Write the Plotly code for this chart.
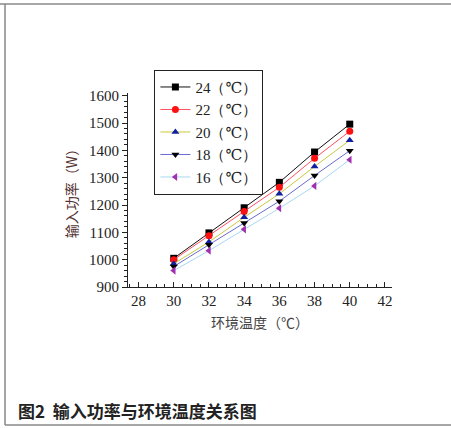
import plotly.graph_objects as go

x_temp = [30, 32, 34, 36, 38, 40]
series_names = ["24（℃）", "22（℃）", "20（℃）", "18（℃）", "16（℃）"]
p24 = [1005, 1098, 1190, 1283, 1394, 1496]
p22 = [1000, 1088, 1176, 1265, 1371, 1470]
p20 = [985, 1065, 1155, 1241, 1341, 1437]
p18 = [975, 1055, 1134, 1214, 1308, 1399]
p16 = [960, 1033, 1111, 1188, 1270, 1366]
series_values = [p24, p22, p20, p18, p16]

line_colors = ["#111111", "#ff5060", "#c8c840", "#6a6ad0", "#a8d8f0"]
marker_colors = ["#000000", "#ff1010", "#1020a0", "#000000", "#a030b0"]
marker_symbols = ["square", "circle", "triangle-up", "triangle-down", "triangle-left"]

x_ticks = [28, 30, 32, 34, 36, 38, 40, 42]
y_ticks = [900, 1000, 1100, 1200, 1300, 1400, 1500, 1600]

fig = go.Figure()
for name, vals, lc, mc, ms in zip(series_names, series_values, line_colors, marker_colors, marker_symbols):
    fig.add_trace(go.Scatter(
        x=x_temp, y=vals, name=name, mode="lines+markers",
        line=dict(color=lc, width=1),
        marker=dict(color=mc, symbol=ms, size=7),
    ))

serif = "Times New Roman, Liberation Serif, DejaVu Serif, serif"
cjk = "Noto Sans CJK SC"
fig.update_layout(
    width=451, height=428,
    margin=dict(l=128, r=59, t=93, b=141),
    paper_bgcolor="white", plot_bgcolor="white",
    font=dict(family=serif, size=15, color="#222222"),
    showlegend=True,
    legend=dict(
        x=0.10, y=1.12, xanchor="left", yanchor="top",
        bordercolor="#222222", borderwidth=1, bgcolor="white",
        font=dict(family=serif, size=15, color="#222222"),
        tracegroupgap=0, itemwidth=30,
    ),
    xaxis=dict(
        range=[27.4, 42.4], tickvals=x_ticks, showgrid=False, zeroline=False,
        showline=True, linecolor="#222222", linewidth=1,
        ticks="inside", ticklen=5, tickcolor="#222222",
        minor=dict(ticks="inside", ticklen=3, dtick=0.5, tickcolor="#222222"),
        tickfont=dict(family=serif, size=15),
        title=dict(text="环境温度（℃）", font=dict(family=cjk, size=14, color="#444444"), standoff=10),
    ),
    yaxis=dict(
        range=[900, 1610], tickvals=y_ticks, showgrid=False, zeroline=False,
        showline=True, linecolor="#222222", linewidth=1,
        ticks="outside", ticklen=5, tickcolor="#222222",
        minor=dict(ticks="outside", ticklen=3, dtick=20, tickcolor="#222222"),
        tickfont=dict(family=serif, size=15),
        title=dict(text="输入功率（W）", font=dict(family=cjk, size=14, color="#553333"), standoff=8),
    ),
)

# decorative frame
fig.add_shape(type="line", xref="paper", yref="paper", x0=-128/264, x1=(451-128)/264,
              y0=1 + (93-4)/194, y1=1 + (93-4)/194, line=dict(color="#888888", width=1.5))
fig.add_shape(type="line", xref="paper", yref="paper", x0=-(128-5)/264, x1=-(128-5)/264,
              y0=1 + (93-4)/194, y1=-(425-287)/194, line=dict(color="#888888", width=1.5))
fig.add_shape(type="line", xref="paper", yref="paper", x0=-(128-5)/264, x1=(451-128)/264,
              y0=-(425-287)/194, y1=-(425-287)/194, line=dict(color="#888888", width=1.5))

fig.add_annotation(
    text="<b>图2  输入功率与环境温度关系图</b>", xref="paper", yref="paper",
    x=-(128-16)/264, y=-(410-287)/194, xanchor="left", yanchor="middle",
    showarrow=False, font=dict(family=cjk, size=17, color="#222222"),
)

fig.write_html("out.html")
